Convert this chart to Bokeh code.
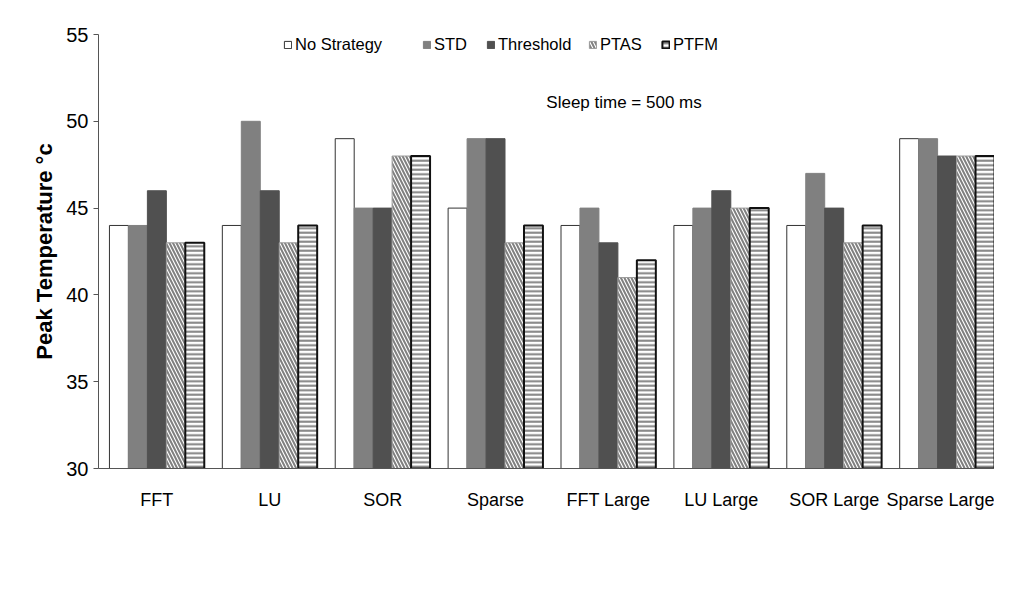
from bokeh.plotting import figure
from bokeh.models import Range1d, FixedTicker, Legend, LegendItem, Label, ColumnDataSource
from bokeh.embed import file_html
from bokeh.resources import INLINE

categories = ["FFT", "LU", "SOR", "Sparse", "FFT Large", "LU Large", "SOR Large", "Sparse Large"]
series_names = ["No Strategy", "STD", "Threshold", "PTAS", "PTFM"]
no_strategy = [44, 44, 49, 45, 44, 44, 44, 49]
std = [44, 50, 45, 49, 45, 45, 47, 49]
threshold = [46, 46, 45, 49, 43, 46, 45, 48]
ptas = [43, 43, 48, 43, 41, 45, 43, 48]
ptfm = [43, 44, 48, 44, 42, 45, 44, 48]
y_ticks = [30, 35, 40, 45, 50, 55]

FONT = "Liberation Sans"

p = figure(width=994, height=574, output_backend="svg", toolbar_location=None,
           x_range=Range1d(-0.017, 7.92), y_range=Range1d(30, 55),
           min_border_left=98, min_border_top=34, min_border_bottom=106, min_border_right=0)
p.xgrid.visible = False
p.ygrid.visible = False
p.outline_line_color = None
p.background_fill_color = "white"
p.border_fill_color = "white"

bw = 0.168
styles = [
    dict(fill_color="white", line_color="#333333", line_width=1),
    dict(fill_color="#808080", line_color="#808080", line_width=1),
    dict(fill_color="#505050", line_color="#505050", line_width=1),
    dict(fill_color="white", line_color="#9a9a9a", line_width=1, hatch_pattern="left_diagonal_line",
         hatch_color="#808080", hatch_scale=7, hatch_weight=2),
    dict(fill_color="white", line_color="#111111", line_width=2, hatch_pattern="horizontal_line",
         hatch_color="#808080", hatch_scale=4.5, hatch_weight=2),
]
series = [no_strategy, std, threshold, ptas, ptfm]
renderers = []
for k, (vals, st) in enumerate(zip(series, styles)):
    xs = [i + 0.5 + (k - 2) * bw for i in range(len(categories))]
    src = ColumnDataSource(dict(x=xs, top=vals))
    r = p.vbar(x="x", top="top", bottom=30, width=bw, source=src, **st)
    renderers.append(r)

# axes
p.xaxis.ticker = FixedTicker(ticks=[i + 0.5 for i in range(len(categories))])
p.xaxis.major_label_overrides = {i + 0.5: c for i, c in enumerate(categories)}
p.xaxis.major_tick_line_color = None
p.xaxis.minor_tick_line_color = None
p.xaxis.major_label_standoff = 15
p.xaxis.major_label_text_font = FONT
p.xaxis.major_label_text_font_size = "18px"
p.xaxis.major_label_text_color = "black"
p.xaxis.axis_line_color = "#555555"

p.yaxis.ticker = FixedTicker(ticks=y_ticks)
p.yaxis.minor_tick_line_color = None
p.yaxis.major_tick_in = 0
p.yaxis.major_tick_out = 5
p.yaxis.major_tick_line_color = "#555555"
p.yaxis.axis_line_color = "#555555"
p.yaxis.major_label_standoff = 5
p.yaxis.major_label_text_font = FONT
p.yaxis.major_label_text_font_size = "20px"
p.yaxis.major_label_text_color = "black"
p.yaxis.axis_label = "Peak Temperature °c"
p.yaxis.axis_label_text_font = FONT
p.yaxis.axis_label_text_font_style = "bold"
p.yaxis.axis_label_text_font_size = "22px"
p.yaxis.axis_label_standoff = 6
p.yaxis.axis_label_text_color = "black"

# legend: one entry per slot, as in the reference
legend_x = [185, 324, 388, 490, 563]
for name, r, lx in zip(series_names, renderers, legend_x):
    lg = Legend(items=[LegendItem(label=name, renderers=[r])], location=(lx, 414),
                orientation="horizontal", padding=0, margin=0, spacing=0,
                glyph_width=9, glyph_height=9, label_standoff=3, label_height=20,
                label_text_font=FONT, label_text_font_size="16.5px", label_text_color="black",
                background_fill_alpha=0, border_line_color=None)
    p.add_layout(lg)

p.add_layout(Label(x=3.95, y=51.1, text="Sleep time = 500 ms", text_font=FONT, text_color="black",
                   text_font_size="17px", text_baseline="middle", text_align="left"))

open("out.html", "w").write(file_html(p, INLINE))
